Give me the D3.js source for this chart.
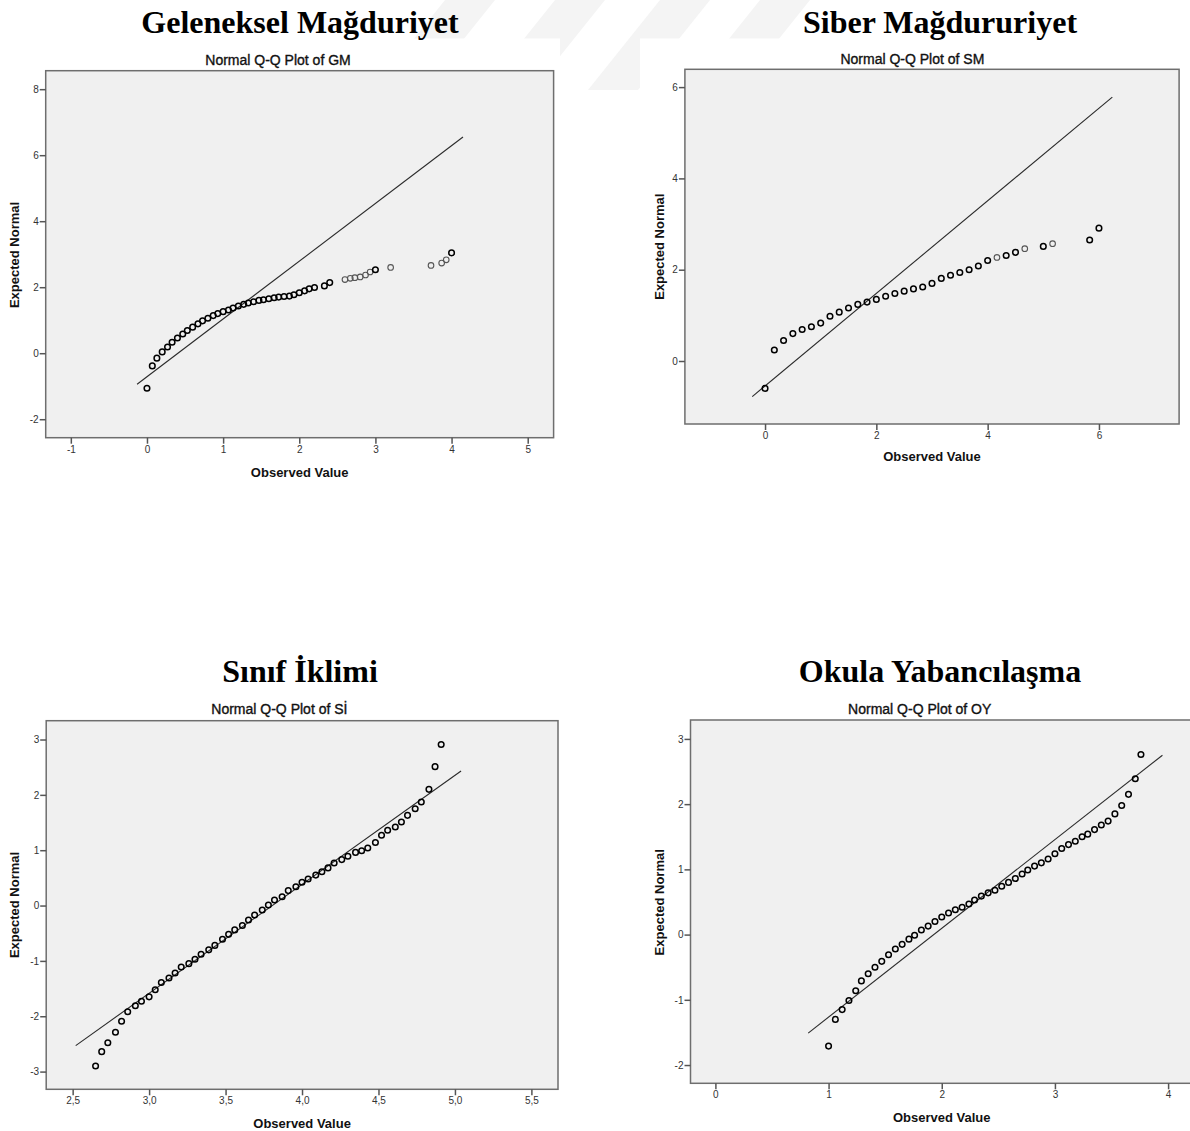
<!DOCTYPE html>
<html>
<head>
<meta charset="utf-8">
<style>
  body { margin: 0; background: #fff; }
  svg { display: block; }
  .big { font-family: "Liberation Serif", "Times New Roman", serif; font-weight: bold; font-size: 32px; fill: #000; }
  .sub { font-family: "Liberation Sans", Arial, sans-serif; font-size: 14px; fill: #111; stroke: #111; stroke-width: 0.35; }
  .lab { font-family: "Liberation Sans", Arial, sans-serif; font-size: 13px; font-weight: bold; fill: #111; }
  .tick text { font-family: "Liberation Sans", Arial, sans-serif; font-size: 10px; fill: #333; }
  .tick line { stroke: #555; stroke-width: 1.5; }
</style>
</head>
<body>
<script src="https://cdn.jsdelivr.net/npm/d3@7"></script>
<script>

// Geleneksel Mağduriyet (GM)
var gmX = [0, 0.07, 0.13, 0.2, 0.27, 0.33, 0.4, 0.47, 0.53, 0.6, 0.67, 0.73, 0.8, 0.87, 0.93, 1.0,
           1.07, 1.13, 1.2, 1.27, 1.33, 1.4, 1.47, 1.53, 1.6, 1.67, 1.73, 1.8, 1.87, 1.93, 2.0,
           2.07, 2.13, 2.2, 2.33, 2.4, 2.6, 2.67, 2.73, 2.8, 2.87, 2.93, 3.0, 3.2, 3.73, 3.87, 3.93, 4.0];
var gmY = [-1.06, -0.385, -0.15, 0.04, 0.19, 0.33, 0.46, 0.58, 0.69, 0.79, 0.89, 0.98, 1.06, 1.14, 1.20, 1.26,
           1.31, 1.37, 1.43, 1.48, 1.52, 1.56, 1.60, 1.62, 1.65, 1.68, 1.70, 1.72, 1.73, 1.77, 1.83,
           1.89, 1.95, 1.99, 2.04, 2.14, 2.23, 2.27, 2.29, 2.31, 2.37, 2.46, 2.53, 2.60, 2.66, 2.73, 2.83, 3.04];
var gmLight = [2.6, 2.67, 2.73, 2.8, 2.87, 2.93, 3.2, 3.73, 3.87, 3.93];
var gmLine = {x: [-0.13, 4.15], y: [-0.94, 6.55]};
var gmXTicks = [-1, 0, 1, 2, 3, 4, 5];
var gmYTicks = [-2, 0, 2, 4, 6, 8];

// Siber Mağdururiyet (SM)
var smX = [0, 0.167, 0.333, 0.5, 0.667, 0.833, 1.0, 1.167, 1.333, 1.5, 1.667, 1.833, 2.0, 2.167, 2.333, 2.5,
           2.667, 2.833, 3.0, 3.167, 3.333, 3.5, 3.667, 3.833, 4.0, 4.167, 4.333, 4.5, 4.667, 5.0, 5.167, 5.833, 6.0];
var smY = [-0.60, 0.24, 0.45, 0.60, 0.69, 0.75, 0.83, 0.98, 1.07, 1.16, 1.24, 1.29, 1.35, 1.42, 1.48, 1.53,
           1.58, 1.62, 1.70, 1.81, 1.88, 1.94, 2.00, 2.08, 2.20, 2.27, 2.31, 2.38, 2.46, 2.51, 2.57, 2.65, 2.91];
var smLight = [4.167, 4.667, 5.167];
var smLine = {x: [-0.23, 6.24], y: [-0.78, 5.78]};
var smXTicks = [0, 2, 4, 6];
var smYTicks = [0, 2, 4, 6];

// Sınıf İklimi (Sİ)
var siX = [2.65, 2.69, 2.73, 2.78, 2.82, 2.86, 2.91, 2.95, 3.00, 3.04, 3.08, 3.13, 3.17, 3.21, 3.26, 3.30, 3.34, 3.39,
           3.43, 3.48, 3.52, 3.56, 3.61, 3.65, 3.69, 3.74, 3.78, 3.82, 3.87, 3.91, 3.96, 4.00, 4.04, 4.09, 4.13, 4.17,
           4.21, 4.26, 4.30, 4.35, 4.39, 4.43, 4.48, 4.52, 4.56, 4.61, 4.65, 4.69, 4.74, 4.78, 4.83, 4.87, 4.91];
var siY = [-2.90, -2.64, -2.48, -2.29, -2.09, -1.92, -1.81, -1.73, -1.65, -1.52, -1.39, -1.31, -1.22, -1.11, -1.05, -0.97, -0.88, -0.80,
           -0.72, -0.61, -0.52, -0.44, -0.36, -0.26, -0.17, -0.08, 0.01, 0.10, 0.16, 0.27, 0.34, 0.42, 0.48, 0.55, 0.61, 0.68,
           0.77, 0.83, 0.89, 0.96, 0.99, 1.04, 1.14, 1.27, 1.36, 1.42, 1.51, 1.63, 1.75, 1.87, 2.10, 2.51, 2.91];
var siLine = {x: [2.52, 5.04], y: [-2.53, 2.43]};
var siXTicks = [2.5, 3.0, 3.5, 4.0, 4.5, 5.0, 5.5];
var siYTicks = [-3, -2, -1, 0, 1, 2, 3];

// Okula Yabancılaşma (OY)
var oyX = [1.00, 1.06, 1.12, 1.18, 1.24, 1.29, 1.35, 1.41, 1.47, 1.53, 1.59, 1.65, 1.71, 1.76, 1.82, 1.88,
           1.94, 2.00, 2.06, 2.12, 2.18, 2.24, 2.29, 2.35, 2.41, 2.47, 2.53, 2.59, 2.65, 2.71, 2.76, 2.82,
           2.88, 2.94, 3.00, 3.06, 3.12, 3.18, 3.24, 3.29, 3.35, 3.41, 3.47, 3.53, 3.59, 3.65, 3.71, 3.76];
var oyY = [-1.71, -1.30, -1.15, -1.01, -0.86, -0.71, -0.60, -0.50, -0.41, -0.31, -0.22, -0.15, -0.07, -0.01, 0.07, 0.13,
           0.20, 0.27, 0.33, 0.38, 0.42, 0.47, 0.53, 0.59, 0.64, 0.68, 0.74, 0.80, 0.86, 0.93, 0.99, 1.05,
           1.10, 1.16, 1.24, 1.32, 1.38, 1.43, 1.50, 1.54, 1.61, 1.68, 1.74, 1.85, 1.98, 2.15, 2.39, 2.76];
var oyLine = {x: [0.82, 3.95], y: [-1.51, 2.75]};
var oyXTicks = [0, 1, 2, 3, 4];
var oyYTicks = [-2, -1, 0, 1, 2, 3];

// SPSS prints a plain hyphen and, in Turkish output, a decimal comma
var comma = function(d) { return d.toFixed(1).replace(".", ","); };
var plain = function(d) { return String(d); };

// layout of the four pasted SPSS charts
var panels = [
  {title: "Geleneksel Mağduriyet", sub: "Normal Q-Q Plot of GM", xs: gmX, ys: gmY, light: gmLight, line: gmLine,
   xt: gmXTicks, yt: gmYTicks, xfmt: plain, xd: [-1.33, 5.34], yd: [-2.56, 8.56],
   box: [45.7, 70.7, 553.6, 437.7], tx: 300, ty: 33, sx: 278, sy: 64.5, ylx: 14.5, yly: 255, xly: 477, img: [0, 38.5, 560, 452]},
  {title: "Siber Mağdururiyet", sub: "Normal Q-Q Plot of SM", xs: smX, ys: smY, light: smLight, line: smLine,
   xt: smXTicks, yt: smYTicks, xfmt: plain, xd: [-1.44, 7.44], yd: [-1.38, 6.39],
   box: [684.9, 69.3, 1179.1, 424], tx: 940, ty: 33, sx: 912.4, sy: 63.5, ylx: 659.5, yly: 246.7, xly: 461, img: [640, 38.5, 550, 442]},
  {title: "Sınıf İklimi", sub: "Normal Q-Q Plot of Sİ", xs: siX, ys: siY, light: [], line: siLine,
   xt: siXTicks, yt: siYTicks, xfmt: comma, xd: [2.327, 5.674], yd: [-3.32, 3.34],
   box: [46.2, 720.7, 558, 1089.3], tx: 300, ty: 682, sx: 279.4, sy: 714, ylx: 14.5, yly: 905, xly: 1128, img: null},
  {title: "Okula Yabancılaşma", sub: "Normal Q-Q Plot of OY", xs: oyX, ys: oyY, light: [], line: oyLine,
   xt: oyXTicks, yt: oyYTicks, xfmt: plain, xd: [-0.22, 4.22], yd: [-2.28, 3.29],
   box: [690.5, 720, 1193, 1083.3], tx: 940, ty: 682, sx: 919.7, sy: 713.5, ylx: 659.5, yly: 902.3, xly: 1122, img: null}
];

var svg = d3.select("body").append("svg")
    .attr("width", 1190)
    .attr("height", 1131);

svg.append("rect").attr("width", 1190).attr("height", 1131).attr("fill", "#fff");

// faint watermark stripes at the top of the page
var stripes = [445, 555, 660, 760];
svg.append("clipPath").attr("id", "wm")
  .append("rect").attr("x", 380).attr("y", 0).attr("width", 460).attr("height", 90);
svg.append("g").attr("clip-path", "url(#wm)")
  .selectAll("path").data(stripes).enter().append("path")
    .attr("d", function(d) { return "M" + d + ",0 L" + (d + 50) + ",0 L" + (d + 50 - 72) + ",90 L" + (d - 72) + ",90 Z"; })
    .attr("fill", "#f4f4f4");

panels.forEach(function(p) {
  if (p.img) {
    svg.append("rect").attr("x", p.img[0]).attr("y", p.img[1])
      .attr("width", p.img[2]).attr("height", p.img[3]).attr("fill", "#fff");
  }

  var x = d3.scaleLinear().domain(p.xd).range([p.box[0], p.box[2]]);
  var y = d3.scaleLinear().domain(p.yd).range([p.box[3], p.box[1]]);

  svg.append("text").attr("class", "big")
    .attr("x", p.tx).attr("y", p.ty).attr("text-anchor", "middle")
    .text(p.title);

  svg.append("text").attr("class", "sub")
    .attr("x", p.sx).attr("y", p.sy).attr("text-anchor", "middle")
    .text(p.sub);

  svg.append("rect")
    .attr("x", p.box[0]).attr("y", p.box[1])
    .attr("width", p.box[2] - p.box[0]).attr("height", p.box[3] - p.box[1])
    .attr("fill", "#f0f0f0")
    .attr("stroke", "#6e6e6e")
    .attr("stroke-width", 1.5);

  var gx = svg.append("g")
    .attr("transform", "translate(0," + p.box[3] + ")")
    .call(d3.axisBottom(x).tickValues(p.xt).tickFormat(p.xfmt).tickSize(6).tickSizeOuter(0).tickPadding(2));
  gx.select(".domain").remove();

  var gy = svg.append("g")
    .attr("transform", "translate(" + p.box[0] + ",0)")
    .call(d3.axisLeft(y).tickValues(p.yt).tickFormat(plain).tickSize(6).tickSizeOuter(0).tickPadding(1));
  gy.select(".domain").remove();

  svg.append("text").attr("class", "lab")
    .attr("x", (p.box[0] + p.box[2]) / 2).attr("y", p.xly)
    .attr("text-anchor", "middle")
    .text("Observed Value");

  svg.append("text").attr("class", "lab")
    .attr("transform", "translate(" + (p.ylx + 4.5) + "," + p.yly + ") rotate(-90)")
    .attr("text-anchor", "middle")
    .text("Expected Normal");

  var line = d3.line()
    .x(function(d) { return x(d[0]); })
    .y(function(d) { return y(d[1]); });

  svg.append("path")
    .datum(d3.zip(p.line.x, p.line.y))
    .attr("d", line)
    .attr("fill", "none")
    .attr("stroke", "#2a2a2a")
    .attr("stroke-width", 1.1);

  svg.append("g").selectAll("circle")
    .data(d3.zip(p.xs, p.ys))
    .enter().append("circle")
    .attr("cx", function(d) { return x(d[0]); })
    .attr("cy", function(d) { return y(d[1]); })
    .attr("r", 2.8)
    .attr("fill", "none")
    .attr("stroke", function(d) { return p.light.indexOf(d[0]) >= 0 ? "#555" : "#000"; })
    .attr("stroke-width", function(d) { return p.light.indexOf(d[0]) >= 0 ? 1.1 : 1.5; });
});

</script>
</body>
</html>
